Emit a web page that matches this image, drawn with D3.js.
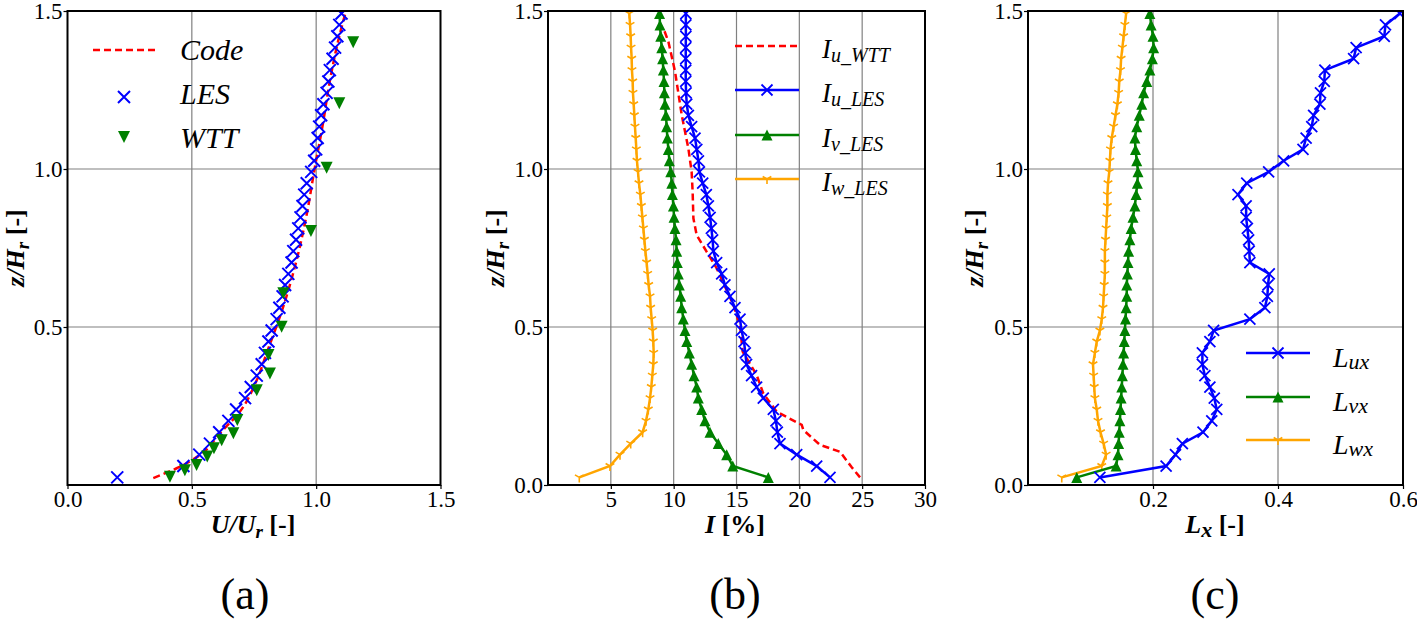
<!DOCTYPE html>
<html><head><meta charset="utf-8">
<script src="https://cdn.jsdelivr.net/npm/d3@7"></script>
<style>body{margin:0;background:#fff} svg text, svg tspan {font-family: "Liberation Serif", "Times New Roman", Times, "DejaVu Serif", "Noto Serif", FreeSerif, serif !important;}</style>
</head><body>
<svg id="c" width="1417" height="621"></svg>
<script>
// ---------------- data ----------------
const zLES = [0.024,0.060,0.096,0.131,0.167,0.203,0.239,0.275,0.310,0.346,0.382,0.418,0.454,0.489,0.525,0.561,0.597,0.633,0.668,0.704,0.740,0.776,0.812,0.847,0.883,0.919,0.955,0.991,1.026,1.062,1.098,1.134,1.170,1.205,1.241,1.277,1.313,1.349,1.384,1.420,1.456,1.492];
// panel (a)
const uLES = [0.200,0.466,0.530,0.573,0.610,0.647,0.678,0.714,0.737,0.761,0.781,0.794,0.808,0.821,0.841,0.852,0.865,0.875,0.888,0.901,0.908,0.919,0.928,0.937,0.945,0.952,0.962,0.980,0.992,1.000,1.006,1.012,1.020,1.029,1.042,1.049,1.055,1.066,1.076,1.085,1.093,1.102];
const codeU = [0.345,0.439,0.533,0.613,0.693,0.760,0.803,0.870,0.923,0.964,0.994,1.024,1.057,1.091,1.120];
const codeZ = [0.022,0.053,0.095,0.164,0.232,0.330,0.422,0.570,0.717,0.865,1.002,1.129,1.287,1.414,1.500];
const wttU = [0.412,0.472,0.519,0.562,0.589,0.620,0.667,0.683,0.761,0.814,0.808,0.861,0.868,0.979,1.042,1.093,1.149];
const wttZ = [0.026,0.047,0.063,0.090,0.116,0.142,0.164,0.206,0.300,0.353,0.411,0.501,0.607,0.804,1.004,1.208,1.401];
// panel (b)
const iuLES = [22.44,21.38,19.79,18.46,18.25,18.14,17.93,17.13,16.60,16.20,15.80,15.70,15.60,15.40,15.28,14.88,14.48,14.08,13.82,13.42,13.16,13.10,13.00,12.90,12.76,12.60,12.31,12.05,11.97,11.84,11.70,11.43,11.17,11.04,10.99,10.96,10.96,10.96,10.96,10.97,10.97,10.97];
const ivLES = [17.53,14.70,14.22,13.55,12.89,12.49,12.23,11.96,11.83,11.62,11.43,11.25,11.04,10.90,10.77,10.64,10.56,10.45,10.37,10.29,10.24,10.19,10.10,10.03,9.98,9.90,9.85,9.77,9.66,9.58,9.50,9.44,9.39,9.31,9.26,9.23,9.18,9.12,9.05,8.97,8.91,8.88];
const iwLES = [2.49,4.93,5.73,6.58,7.53,7.80,7.98,8.12,8.22,8.30,8.38,8.41,8.38,8.33,8.25,8.17,8.12,8.01,7.93,7.85,7.75,7.67,7.59,7.51,7.43,7.35,7.24,7.16,7.08,7.03,6.98,6.92,6.87,6.82,6.76,6.74,6.68,6.66,6.61,6.58,6.53,6.47];
const iuWTT = [24.83,24.17,23.24,21.64,20.32,20.19,18.20,17.13,16.60,15.49,15.28,14.75,13.42,12.63,11.83,11.57,11.51,11.43,11.17,10.64,10.11,9.58,9.18];
const zIuWTT = [0.024,0.056,0.105,0.127,0.174,0.190,0.232,0.290,0.348,0.422,0.506,0.570,0.686,0.738,0.791,0.844,0.928,0.991,1.065,1.171,1.308,1.403,1.446];
// panel (c)
const luxLES = [0.115,0.221,0.236,0.247,0.280,0.294,0.302,0.298,0.291,0.283,0.279,0.279,0.291,0.297,0.355,0.379,0.383,0.384,0.386,0.355,0.354,0.353,0.351,0.349,0.349,0.336,0.350,0.385,0.409,0.440,0.445,0.454,0.457,0.467,0.468,0.474,0.475,0.521,0.525,0.570,0.572,0.595];
const lvxLES = [0.078,0.141,0.144,0.145,0.146,0.147,0.148,0.149,0.150,0.151,0.152,0.153,0.154,0.155,0.156,0.157,0.158,0.158,0.159,0.160,0.161,0.163,0.165,0.168,0.171,0.173,0.175,0.176,0.174,0.172,0.171,0.174,0.178,0.182,0.185,0.190,0.195,0.199,0.201,0.200,0.197,0.195];
const lwxLES = [0.054,0.118,0.125,0.121,0.116,0.112,0.110,0.107,0.106,0.105,0.104,0.107,0.110,0.115,0.118,0.120,0.121,0.122,0.123,0.123,0.123,0.124,0.125,0.126,0.127,0.127,0.128,0.130,0.131,0.132,0.134,0.137,0.140,0.143,0.145,0.146,0.148,0.149,0.151,0.153,0.155,0.157];
// ticks
const yTicksA = [0.5,1.0,1.5], yTicksBC = [0,0.5,1.0,1.5], yGrid = [0.5,1.0];
const xTicksA = [0,0.5,1.0,1.5], xGridA = [0.5,1.0];
const xTicksB = [5,10,15,20,25,30], xGridB = [5,10,15,20,25];
const xTicksC = [0.2,0.4,0.6], xGridC = [0.2,0.4];

// ---------------- drawing ----------------
const svg = d3.select('#c');
const Y0 = 11, Y1 = 485;
const BLUE = '#0000ff', GREEN = '#008000', ORANGE = '#ffa500', RED = '#ff0000';

function panel(id, x0, x1, xdom, xticks, xfmt, xgrid, yticks) {
  const x = d3.scaleLinear().domain(xdom).range([x0, x1]);
  const y = d3.scaleLinear().domain([0, 1.5]).range([Y1, Y0]);
  const g = svg.append('g');
  svg.append('clipPath').attr('id', 'clip' + id).append('rect')
    .attr('x', x0).attr('y', Y0).attr('width', x1 - x0).attr('height', Y1 - Y0);
  g.append('g').selectAll('line').data(xgrid).join('line')
    .attr('x1', d => x(d)).attr('x2', d => x(d)).attr('y1', Y0).attr('y2', Y1)
    .attr('stroke', '#808080').attr('stroke-width', 1.2);
  g.append('g').selectAll('line').data(yGrid).join('line')
    .attr('x1', x0).attr('x2', x1).attr('y1', d => y(d)).attr('y2', d => y(d))
    .attr('stroke', '#808080').attr('stroke-width', 1.2);
  const ax = g.append('g').attr('transform', `translate(0,${Y1})`)
    .call(d3.axisBottom(x).tickValues(xticks).tickFormat(d3.format(xfmt)).tickSize(4).tickPadding(2));
  const ay = g.append('g').attr('transform', `translate(${x0},0)`)
    .call(d3.axisLeft(y).tickValues(yticks).tickFormat(d3.format('.1f')).tickSize(4).tickPadding(1));
  [ax, ay].forEach(a => {
    a.attr('font-size', 23);
    a.select('.domain').remove();
    a.selectAll('.tick line').attr('stroke', '#000').attr('stroke-width', 1.2);
    a.selectAll('.tick text').attr('fill', '#000');
  });
  const data = svg.append('g').attr('clip-path', `url(#clip${id})`);
  const frame = () => svg.append('rect').attr('x', x0).attr('y', Y0)
    .attr('width', x1 - x0).attr('height', Y1 - Y0)
    .attr('fill', 'none').attr('stroke', '#000').attr('stroke-width', 2);
  return {x, y, data, frame};
}

function xMark(sel, px, py, r, col, w) {
  sel.append('path').attr('d', `M${px-r},${py-r}L${px+r},${py+r}M${px-r},${py+r}L${px+r},${py-r}`)
    .attr('stroke', col).attr('stroke-width', w).attr('fill', 'none');
}
function triUp(sel, px, py, r, col) {
  sel.append('path').attr('d', `M${px},${py-r}L${px+r},${py+r}L${px-r},${py+r}Z`).attr('fill', col);
}
function triDownFilled(sel, px, py, r, col) {
  sel.append('path').attr('d', `M${px},${py+r}L${px+r},${py-r}L${px-r},${py-r}Z`).attr('fill', col);
}
function triSpoke(sel, px, py, r, col) {
  sel.append('path').attr('d', `M${px},${py}L${px},${py+r}M${px},${py}L${px-0.866*r},${py-0.5*r}M${px},${py}L${px+0.866*r},${py-0.5*r}`)
    .attr('stroke', col).attr('stroke-width', 1.6).attr('fill', 'none');
}
function profile(P, vals, zs, col, dash) {
  const line = d3.line().x(d => P.x(d[0])).y(d => P.y(d[1]));
  const pts = vals.map((v, i) => [v, zs[i]]);
  P.data.append('path').attr('d', line(pts)).attr('fill', 'none').attr('stroke', col)
    .attr('stroke-width', 2.5).attr('stroke-dasharray', dash || null);
  return pts;
}

function label(parent, x, y, parts, rotate) {
  const t = parent.append('text').attr('x', x).attr('y', y).attr('text-anchor', 'middle');
  if (rotate) t.attr('transform', `rotate(-90,${x},${y})`);
  let shift = 0;
  parts.forEach(p => {
    const ts = t.append('tspan').text(p.t).attr('font-size', p.s)
      .attr('font-weight', p.b ? 'bold' : 'normal').attr('font-style', p.i ? 'italic' : 'normal');
    const want = p.sub || 0;
    if (want !== shift) { ts.attr('dy', want - shift); shift = want; }
  });
  return t;
}

// ---- panel (a)
const A = panel('a', 67.5, 440.5, [0, 1.5], xTicksA, '.1f', xGridA, yTicksA);
const codePts = codeU.map((v, i) => [v, codeZ[i]]);
A.data.append('path').attr('d', d3.line().curve(d3.curveMonotoneY).x(d => A.x(d[0])).y(d => A.y(d[1]))(codePts))
  .attr('fill', 'none').attr('stroke', RED).attr('stroke-width', 2.5).attr('stroke-dasharray', '7,4');
uLES.forEach((v, i) => xMark(A.data, A.x(v), A.y(zLES[i]), 6, BLUE, 2));
wttU.forEach((v, i) => triDownFilled(A.data, A.x(v), A.y(wttZ[i]), 6, GREEN));
A.frame();

// ---- panel (b)
const B = panel('b', 548, 925, [0, 30], xTicksB, 'd', xGridB, yTicksBC);
profile(B, iuWTT, zIuWTT, RED, '7,4');
profile(B, iwLES, zLES, ORANGE);
iwLES.forEach((v, i) => triSpoke(B.data, B.x(v), B.y(zLES[i]), 5, ORANGE));
profile(B, ivLES, zLES, GREEN);
ivLES.forEach((v, i) => triUp(B.data, B.x(v), B.y(zLES[i]), 5.5, GREEN));
profile(B, iuLES, zLES, BLUE);
iuLES.forEach((v, i) => xMark(B.data, B.x(v), B.y(zLES[i]), 5.5, BLUE, 1.8));
B.frame();

// ---- panel (c)
const C = panel('c', 1028, 1403, [0, 0.6], xTicksC, '.1f', xGridC, yTicksBC);
profile(C, lwxLES, zLES, ORANGE);
lwxLES.forEach((v, i) => triSpoke(C.data, C.x(v), C.y(zLES[i]), 5, ORANGE));
profile(C, lvxLES, zLES, GREEN);
lvxLES.forEach((v, i) => triUp(C.data, C.x(v), C.y(zLES[i]), 5.5, GREEN));
profile(C, luxLES, zLES, BLUE);
luxLES.forEach((v, i) => xMark(C.data, C.x(v), C.y(zLES[i]), 5.5, BLUE, 1.8));
C.frame();

// ---- axis labels
const L = svg.append('g');
const S = 26, SS = 19;
label(L, 253, 533, [{t:'U/U', s:S, b:1, i:1}, {t:'r', s:SS, b:1, i:1, sub:5}, {t:' [-]', s:S, b:1, sub:0}]);
label(L, 735, 533, [{t:'I', s:S, b:1, i:1}, {t:' [%]', s:S, b:1}]);
label(L, 1215, 533, [{t:'L', s:S, b:1, i:1}, {t:'x', s:SS + 3, b:1, i:1, sub:4}, {t:' [-]', s:S, b:1, sub:0}]);
[24, 504, 983].forEach(px => label(L, px, 248,
  [{t:'z/H', s:S, b:1, i:1}, {t:'r', s:SS, b:1, i:1, sub:5}, {t:' [-]', s:S, b:1, sub:0}], true));

// ---- captions
[['(a)', 245], ['(b)', 735], ['(c)', 1215]].forEach(([t, px]) =>
  L.append('text').attr('x', px).attr('y', 609).attr('text-anchor', 'middle').attr('font-size', 44).text(t));

// ---- legends
const G = svg.append('g');
// (a)
G.append('line').attr('x1', 93).attr('x2', 155).attr('y1', 50).attr('y2', 50)
  .attr('stroke', RED).attr('stroke-width', 2.5).attr('stroke-dasharray', '7,4');
xMark(G, 124, 97, 6, BLUE, 2);
triDownFilled(G, 124, 137, 6, GREEN);
[['Code', 60], ['LES', 104], ['WTT', 148]].forEach(([t, py]) =>
  G.append('text').attr('x', 180).attr('y', py).attr('font-size', 30).attr('font-style', 'italic').text(t));

// (b)
const legB = [
  {sub:'u_WTT', col:RED, dash:'7,4', mk:null},
  {sub:'u_LES', col:BLUE, mk:'x'},
  {sub:'v_LES', col:GREEN, mk:'^'},
  {sub:'w_LES', col:ORANGE, mk:'1'}];
const rowsB = [46, 90, 135, 179];
legB.forEach((d, i) => {
  const py = rowsB[i];
  G.append('line').attr('x1', 735).attr('x2', 799).attr('y1', py).attr('y2', py)
    .attr('stroke', d.col).attr('stroke-width', 2.5).attr('stroke-dasharray', d.dash || null);
  if (d.mk === 'x') xMark(G, 767, py, 5.5, d.col, 1.8);
  if (d.mk === '^') triUp(G, 767, py, 5.5, d.col);
  if (d.mk === '1') triSpoke(G, 767, py, 5, d.col);
  const t = G.append('text').attr('x', 822).attr('y', py + 12).attr('font-style', 'italic');
  t.append('tspan').attr('font-size', 27).text('I');
  t.append('tspan').attr('font-size', 20).attr('dy', 4).text(d.sub);
});
// (c)
const legC = [
  {sub:'ux', col:BLUE, mk:'x'},
  {sub:'vx', col:GREEN, mk:'^'},
  {sub:'wx', col:ORANGE, mk:'1'}];
const rowsC = [353, 397, 440];
legC.forEach((d, i) => {
  const py = rowsC[i];
  G.append('line').attr('x1', 1246).attr('x2', 1310).attr('y1', py).attr('y2', py)
    .attr('stroke', d.col).attr('stroke-width', 2.5);
  if (d.mk === 'x') xMark(G, 1278, py, 5.5, d.col, 1.8);
  if (d.mk === '^') triUp(G, 1278, py, 5.5, d.col);
  if (d.mk === '1') triSpoke(G, 1278, py, 5, d.col);
  const t = G.append('text').attr('x', 1333).attr('y', py + 14).attr('font-style', 'italic');
  t.append('tspan').attr('font-size', 28).text('L');
  t.append('tspan').attr('font-size', 22).attr('dy', 2).text(d.sub);
});
</script>
</body></html>
